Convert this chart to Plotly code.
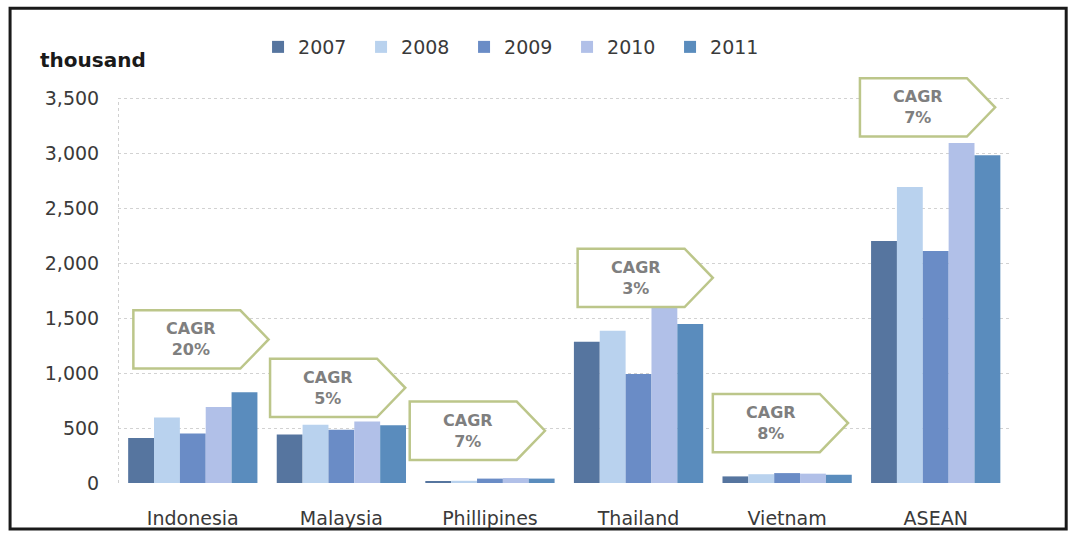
import plotly.graph_objects as go

# Vehicle production by country, thousand units
categories = ["Indonesia", "Malaysia", "Phillipines", "Thailand", "Vietnam", "ASEAN"]
years = ["2007", "2008", "2009", "2010", "2011"]
v2007 = [410, 440, 15, 1285, 60, 2200]
v2008 = [595, 530, 20, 1385, 80, 2690]
v2009 = [450, 485, 40, 990, 90, 2110]
v2010 = [690, 560, 45, 1645, 85, 3090]
v2011 = [825, 525, 40, 1445, 75, 2980]
series = [v2007, v2008, v2009, v2010, v2011]

# Growth call-outs per category
cagr_labels = ["20%", "5%", "7%", "3%", "8%", "7%"]

y_ticks = [0, 500, 1000, 1500, 2000, 2500, 3000, 3500]

colors = ["#56759f", "#b9d2ee", "#6a8cc6", "#b1c0e8", "#5a8cbd"]
FONT = "DejaVu Sans"
TEXT = "#3a3a3a"

fig = go.Figure()
for year, vals, col in zip(years, series, colors):
    fig.add_trace(go.Bar(
        name=year, x=categories, y=vals,
        marker=dict(color=col, line=dict(width=0)),
    ))

# Call-out arrow boxes: (left edge in category units, bottom in data units)
box_anchor = [(-0.40, 1040), (0.52, 600), (1.46, 210), (2.59, 1600), (3.50, 280), (4.49, 3150)]
box_w, box_tip, box_h = 0.72, 0.19, 530

shapes = []
annotations = []
for (x0, y0), lab in zip(box_anchor, cagr_labels):
    x1 = x0 + box_w
    path = (f"M {x0},{y0} L {x1},{y0} L {x1 + box_tip},{y0 + box_h / 2} "
            f"L {x1},{y0 + box_h} L {x0},{y0 + box_h} Z")
    shapes.append(dict(type="path", xref="x", yref="y", path=path,
                       fillcolor="white", line=dict(color="#bcc68a", width=2.5),
                       layer="above"))
    annotations.append(dict(x=x0 + box_w / 2 + 0.03, y=y0 + box_h / 2,
                            xref="x", yref="y", showarrow=False,
                            text=f"<b>CAGR<br>{lab}</b>",
                            font=dict(family=FONT, size=16, color="#7f7f7f"),
                            xanchor="center", yanchor="middle"))

# faint dotted value axis line
shapes.append(dict(type="line", xref="x", yref="y", x0=-0.5, x1=-0.5, y0=0, y1=3500,
                   line=dict(color="#d0d0d0", width=1, dash="dot"), layer="below"))

# outer frame
shapes.append(dict(type="rect", xref="paper", yref="paper",
                   x0=-0.121, x1=1.063, y0=-0.110, y1=1.136,
                   line=dict(color="#1a1a1a", width=3), fillcolor="rgba(0,0,0,0)"))

annotations.append(dict(x=-0.028, y=1.012, xref="paper", yref="paper", showarrow=False,
                        text="<b>thousand</b>", xanchor="center", yanchor="middle",
                        font=dict(family=FONT, size=20, color="#1a1a1a")))

fig.update_layout(
    width=1069, height=539,
    margin=dict(l=118, r=59, t=65, b=56, autoexpand=False),
    paper_bgcolor="white", plot_bgcolor="white",
    barmode="group", bargap=0.13, bargroupgap=0,
    font=dict(family=FONT, size=19, color=TEXT),
    showlegend=True,
    legend=dict(orientation="h", x=0.157, xanchor="left", y=1.043, yanchor="middle",
                font=dict(family=FONT, size=19, color=TEXT),
                entrywidth=58, entrywidthmode="pixels",
                bgcolor="rgba(0,0,0,0)", traceorder="normal"),
    xaxis=dict(type="category", showgrid=False, showline=False, zeroline=False,
               automargin=False,
               ticks="outside", ticklen=18, tickcolor="rgba(0,0,0,0)",
               tickfont=dict(family=FONT, size=19, color=TEXT)),
    yaxis=dict(range=[0, 3800], tickvals=y_ticks, tickformat=",",
               showgrid=True, gridcolor="#d2d2d2", griddash="dot", gridwidth=1,
               zeroline=False, showline=False, automargin=False,
               ticks="outside", ticklen=14, tickcolor="rgba(0,0,0,0)",
               tickfont=dict(family=FONT, size=19, color=TEXT)),
    shapes=shapes, annotations=annotations,
)

fig.write_html("out.html")
